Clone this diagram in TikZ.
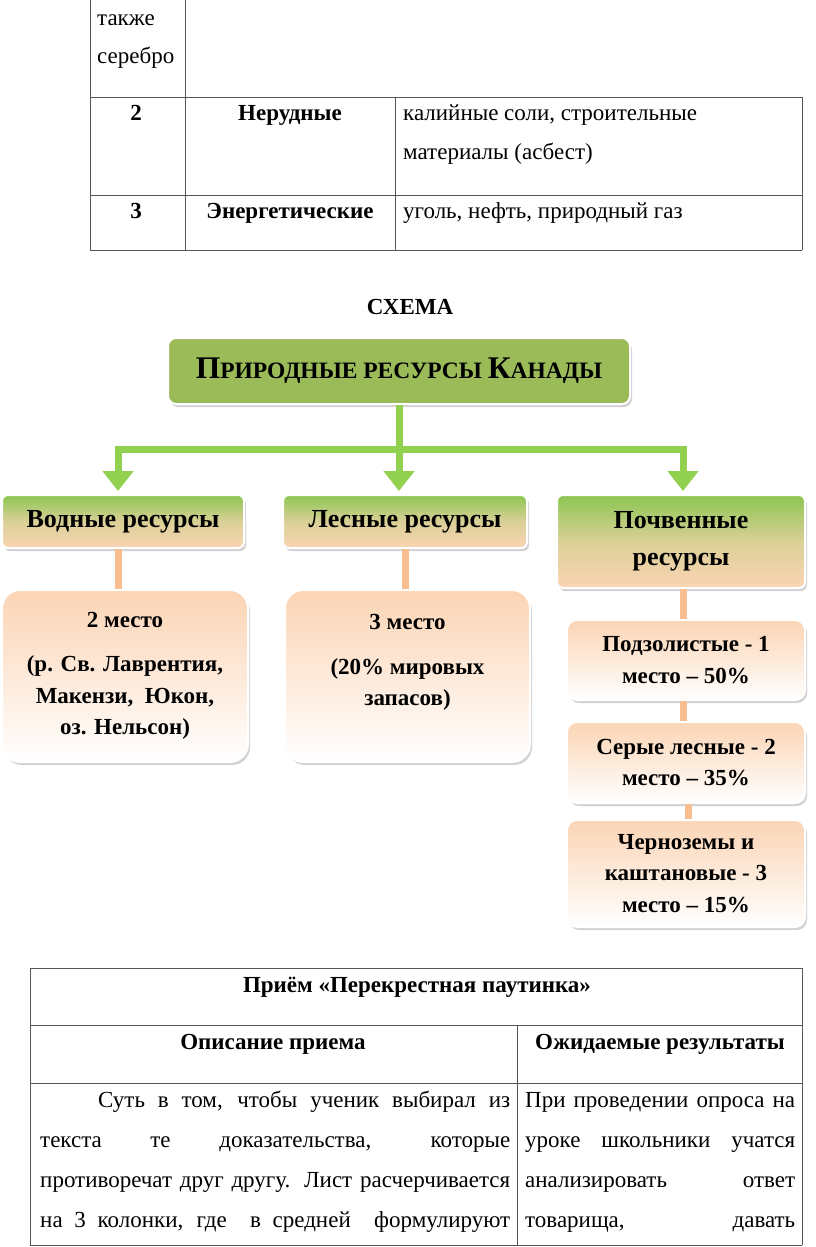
\documentclass[tikz,border=0pt]{standalone}
\usepackage{fontspec}
\setmainfont{Liberation Serif}
\usetikzlibrary{shadows,arrows.meta}
\definecolor{tgreen}{HTML}{9BBB59}
\definecolor{lgreen}{HTML}{92D050}
\definecolor{bgreen}{HTML}{8CC652}
\definecolor{peach}{HTML}{FBD4B4}
\definecolor{orln}{HTML}{F9BE8F}
\definecolor{tline}{HTML}{555555}
\begin{document}
\begin{tikzpicture}[x=1pt,y=-1pt,
  txt/.style={inner sep=0pt, font=\fontsize{23}{27}\selectfont},
  btxt/.style={inner sep=0pt, font=\bfseries\fontsize{23}{27}\selectfont},
  tbl/.style={draw=tline, line width=0.9pt},
  shad/.style={drop shadow={opacity=0.35, shadow xshift=2pt, shadow yshift=-3pt}},
  titlebox/.style={fill=tgreen, draw=white, line width=2pt, rounded corners=8pt, shad,
     minimum width=462pt, minimum height=66pt, inner sep=0pt},
  catbox/.style={top color=bgreen, bottom color=peach, middle color=peach!70!bgreen, draw=white, line width=2pt,
     rounded corners=6pt, shad, inner sep=0pt, align=center,
     font=\bfseries\fontsize{26}{37}\selectfont},
  infobox/.style={top color=peach, bottom color=white, draw=white, line width=2pt,
     rounded corners=18pt, shad, inner sep=0pt, align=center,
     font=\bfseries\fontsize{23}{31.5}\selectfont},
  soilbox/.style={top color=peach, bottom color=white, draw=white, line width=2pt,
     rounded corners=10pt, shad, inner sep=0pt, align=center,
     font=\bfseries\fontsize{23}{31.5}\selectfont},
  gline/.style={draw=lgreen, line width=7pt},
  garrow/.style={draw=lgreen, line width=7pt, -{Triangle[width=30pt,length=20pt]}, shorten >=3pt},
  oline/.style={draw=orln, line width=7pt}
]
\useasboundingbox (0,0) rectangle (816,1247);
\fill[white] (0,0) rectangle (816,1247);

% ---- top table ----
\draw[tbl] (90,0) -- (90,250);
\draw[tbl] (185,0) -- (185,250);
\draw[tbl] (395,97) -- (395,250);
\draw[tbl] (802,97) -- (802,250);
\draw[tbl] (90,97) -- (802,97);
\draw[tbl] (90,195) -- (802,195);
\draw[tbl] (90,250) -- (802,250);
\node[txt, anchor=mid west] (t1) at (97,23) {также};
\node[txt, anchor=mid west] (t2) at (97,61) {серебро};
\node[btxt, anchor=mid] (n2) at (136,118) {2};
\node[btxt, anchor=mid] (nd) at (290,118) {Нерудные};
\node[txt, anchor=mid west] (nd1) at (403,118) {калийные соли, строительные};
\node[txt, anchor=mid west] (nd2) at (403,157) {материалы (асбест)};
\node[btxt, anchor=mid] (n3) at (136,216) {3};
\node[btxt, anchor=mid] (en) at (290,216) {Энергетические};
\node[txt, anchor=mid west] (en1) at (403,216) {уголь, нефть, природный газ};

% ---- scheme ----
\node[btxt, anchor=mid] (sch) at (410,312) {СХЕМА};

\node[titlebox] (root) at (399,371) {\bfseries{\fontsize{31.5}{31.5}\selectfont П}{\fontsize{23.5}{23.5}\selectfont РИРОДНЫЕ РЕСУРСЫ }{\fontsize{31.5}{31.5}\selectfont К}{\fontsize{23.5}{23.5}\selectfont АНАДЫ}};

\node[catbox, minimum width=242pt, minimum height=53pt] (water) at (123,521.5) {Водные ресурсы};
\node[catbox, minimum width=244pt, minimum height=53pt] (forest) at (405,521.5) {Лесные ресурсы};
\node[catbox, minimum width=248pt, minimum height=93pt] (soil) at (681,541.5) {Почвенные\\ресурсы};

\node[infobox, minimum width=246pt, minimum height=172pt] (wi) at (125,676) {2 место\\[13pt](р. Св. Лаврентия,\\Макензи,\ \ Юкон,\\оз. Нельсон)};
\node[infobox, minimum width=245pt, minimum height=172pt] (fi) at (407.5,676) {3 место\\[13pt](20\% мировых\\запасов)\\\mbox{}};

\node[soilbox, minimum width=238pt, minimum height=80pt] (s1) at (686,660) {Подзолистые - 1\\место – 50\%};
\node[soilbox, minimum width=238pt, minimum height=81pt] (s2) at (686,762.5) {Серые лесные - 2\\место – 35\%};
\node[soilbox, minimum width=238pt, minimum height=107pt] (s3) at (686,873.5) {Черноземы и\\каштановые - 3\\место – 15\%};

% green connectors
\coordinate (hub) at (399,449);
\coordinate (hl) at (118,449);
\coordinate (hr) at (683,449);
\draw[gline] (root.south) -- (hub);
\draw[gline, line cap=rect] (hl) -- (hr);
\draw[garrow] (hl) -- (hl |- water.north);
\draw[garrow] (hub) -- (hub |- forest.north);
\draw[garrow] (hr) -- (hr |- soil.north);

% orange connectors
\draw[oline] (water.south -| 118,0) -- (wi.north -| 118,0);
\draw[oline] (forest.south -| 405,0) -- (fi.north -| 405,0);
\draw[oline] (soil.south -| 683,0) -- (s1.north -| 683,0);
\draw[oline] (s1.south -| 683,0) -- (s2.north -| 683,0);
\draw[oline] (s2.south -| 688,0) -- (s3.north -| 688,0);

% ---- bottom table ----
\draw[tbl] (30,968) -- (802,968);
\draw[tbl] (30,1025) -- (802,1025);
\draw[tbl] (30,1083) -- (802,1083);
\draw[tbl] (30,1245) -- (802,1245);
\draw[tbl] (30,968) -- (30,1245);
\draw[tbl] (802,968) -- (802,1245);
\draw[tbl] (517,1025) -- (517,1245);
\node[btxt, anchor=mid] (h0) at (417,990) {Приём «Перекрестная паутинка»};
\node[btxt, anchor=mid] (h1) at (273,1047) {Описание приема};
\node[btxt, anchor=mid] (h2) at (660,1047) {Ожидаемые результаты};
\node[txt, anchor=mid west] (l1) at (98,1105) {\makebox[412pt][s]{Суть в том, чтобы ученик выбирал из}};
\node[txt, anchor=mid west] (l2) at (40,1145) {\makebox[470pt][s]{текста те доказательства, которые}};
\node[txt, anchor=mid west] (l3) at (40,1185) {\makebox[470pt][s]{противоречат друг другу. Лист расчерчивается}};
\node[txt, anchor=mid west] (l4) at (40,1225) {\makebox[470pt][s]{на 3 колонки, где\ \ в средней\ \ формулируют}};
\node[txt, anchor=mid west] (r1) at (525,1105) {\makebox[270pt][s]{При проведении опроса на}};
\node[txt, anchor=mid west] (r2) at (525,1145) {\makebox[270pt][s]{уроке школьники учатся}};
\node[txt, anchor=mid west] (r3) at (525,1185) {\makebox[270pt][s]{анализировать ответ}};
\node[txt, anchor=mid west] (r4) at (525,1225) {\makebox[270pt][s]{товарища, давать}};
\end{tikzpicture}
\end{document}
